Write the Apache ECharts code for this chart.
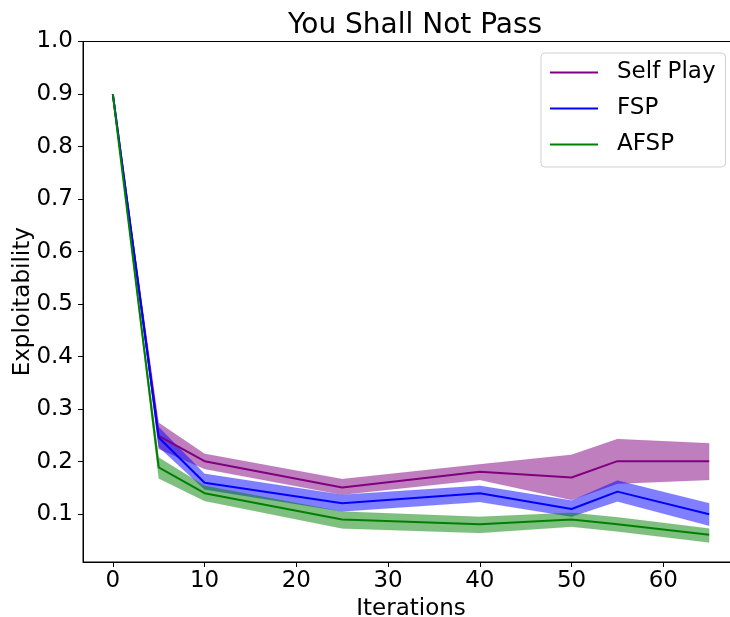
<!DOCTYPE html>
<html>
<head>
<meta charset="utf-8">
<script src="https://cdn.jsdelivr.net/npm/echarts@6/dist/echarts.min.js"></script>
<style>
html,body{margin:0;padding:0;background:#fff;}
#chart{width:730px;height:617px;}
</style>
</head>
<body>
<div id="chart"></div>
<script>
const iterations = [0, 5, 10, 25, 40, 50, 55, 65];

const selfPlay     = [0.9, 0.249, 0.201, 0.151, 0.181, 0.170, 0.201, 0.201];
const selfPlayLow  = [0.9, 0.224, 0.186, 0.137, 0.165, 0.127, 0.158, 0.165];
const selfPlayHigh = [0.9, 0.274, 0.215, 0.167, 0.195, 0.213, 0.243, 0.235];

const fsp     = [0.9, 0.246, 0.160, 0.121, 0.140, 0.110, 0.143, 0.100];
const fspLow  = [0.9, 0.228, 0.147, 0.105, 0.123, 0.095, 0.124, 0.078];
const fspHigh = [0.9, 0.266, 0.177, 0.137, 0.154, 0.126, 0.164, 0.121];

const afsp     = [0.9, 0.189, 0.140, 0.090, 0.081, 0.090, 0.081, 0.061];
const afspLow  = [0.9, 0.168, 0.125, 0.073, 0.064, 0.076, 0.067, 0.046];
const afspHigh = [0.9, 0.208, 0.154, 0.105, 0.095, 0.103, 0.094, 0.073];

const xTicks = [0, 10, 20, 30, 40, 50, 60];
const yTicks = [0.1, 0.2, 0.3, 0.4, 0.5, 0.6, 0.7, 0.8, 0.9, 1.0];

const seriesNames = ['Self Play', 'FSP', 'AFSP'];
const lineColors = ['#800080', '#0000ff', '#008000'];

const FONT = 'DejaVu Sans';

function pairs(ys) { return iterations.map((x, i) => [x, ys[i]]); }

function band(lo, hi, color) {
  return {
    type: 'custom',
    silent: true,
    clip: true,
    z: 1,
    data: iterations.map((x, i) => [x, lo[i], hi[i]]),
    encode: { x: 0, y: [1, 2] },
    renderItem: function (params, api) {
      if (params.dataIndex !== 0) return null;
      const pts = [];
      for (let i = 0; i < iterations.length; i++) pts.push(api.coord([iterations[i], hi[i]]));
      for (let i = iterations.length - 1; i >= 0; i--) pts.push(api.coord([iterations[i], lo[i]]));
      return {
        type: 'polygon',
        shape: { points: pts },
        style: { fill: color, opacity: 0.5, stroke: color, lineWidth: 0.5, strokeOpacity: 0.3 }
      };
    }
  };
}

function line(name, ys, color) {
  return {
    type: 'line',
    name: name,
    data: pairs(ys),
    symbol: 'none',
    z: 3,
    lineStyle: { color: color, width: 2 },
    itemStyle: { color: color }
  };
}

const chart = echarts.init(document.getElementById('chart'), null, { renderer: 'canvas' });

chart.setOption({
  animation: false,
  backgroundColor: '#fff',
  title: {
    text: 'You Shall Not Pass',
    left: 410,
    textAlign: 'center',
    top: 7,
    textStyle: { fontFamily: FONT, fontSize: 28, fontWeight: 'normal', color: '#000' }
  },
  legend: {
    orient: 'vertical',
    left: 541,
    top: 53,
    data: seriesNames,
    icon: 'rect',
    itemWidth: 48,
    itemHeight: 2,
    itemGap: 13,
    padding: [8, 10, 11, 9],
    borderColor: '#d0d0d0',
    borderWidth: 1,
    borderRadius: 4,
    backgroundColor: 'rgba(255,255,255,0.8)',
    textStyle: { fontFamily: FONT, fontSize: 23, color: '#000', padding: [0, 0, 0, 14], lineHeight: 23 }
  },
  grid: {
    left: 83,
    top: 41.5,
    width: 656,
    height: 520.5,
    containLabel: false,
    outerBoundsMode: 'none',
    show: true,
    borderColor: '#000',
    borderWidth: 1,
    backgroundColor: 'transparent'
  },
  xAxis: {
    type: 'value',
    min: -3.25,
    max: 68.25,
    name: 'Iterations',
    nameLocation: 'middle',
    nameGap: 36,
    nameMoveOverlap: false,
    nameTextStyle: { fontFamily: FONT, fontSize: 23, color: '#000' },
    splitLine: { show: false },
    axisLine: { show: true, onZero: false, lineStyle: { color: '#000', width: 1 } },
    axisTick: { show: true, inside: false, length: 5, lineStyle: { color: '#000' }, customValues: xTicks },
    axisLabel: { fontFamily: FONT, fontSize: 23, color: '#000', margin: 8, customValues: xTicks }
  },
  yAxis: {
    type: 'value',
    min: 0.009,
    max: 1.0,
    name: 'Exploitability',
    nameLocation: 'middle',
    nameGap: 48,
    nameMoveOverlap: false,
    nameTextStyle: { fontFamily: FONT, fontSize: 23, color: '#000' },
    splitLine: { show: false },
    axisLine: { show: true, onZero: false, lineStyle: { color: '#000', width: 1 } },
    axisTick: { show: true, inside: false, length: 5, lineStyle: { color: '#000' }, customValues: yTicks },
    axisLabel: {
      fontFamily: FONT, fontSize: 23, color: '#000', margin: 10, customValues: yTicks,
      formatter: function (v) { return v.toFixed(1); }
    }
  },
  series: [
    band(selfPlayLow, selfPlayHigh, lineColors[0]),
    band(fspLow, fspHigh, lineColors[1]),
    band(afspLow, afspHigh, lineColors[2]),
    line(seriesNames[0], selfPlay, lineColors[0]),
    line(seriesNames[1], fsp, lineColors[1]),
    line(seriesNames[2], afsp, lineColors[2])
  ]
});
</script>
</body>
</html>
